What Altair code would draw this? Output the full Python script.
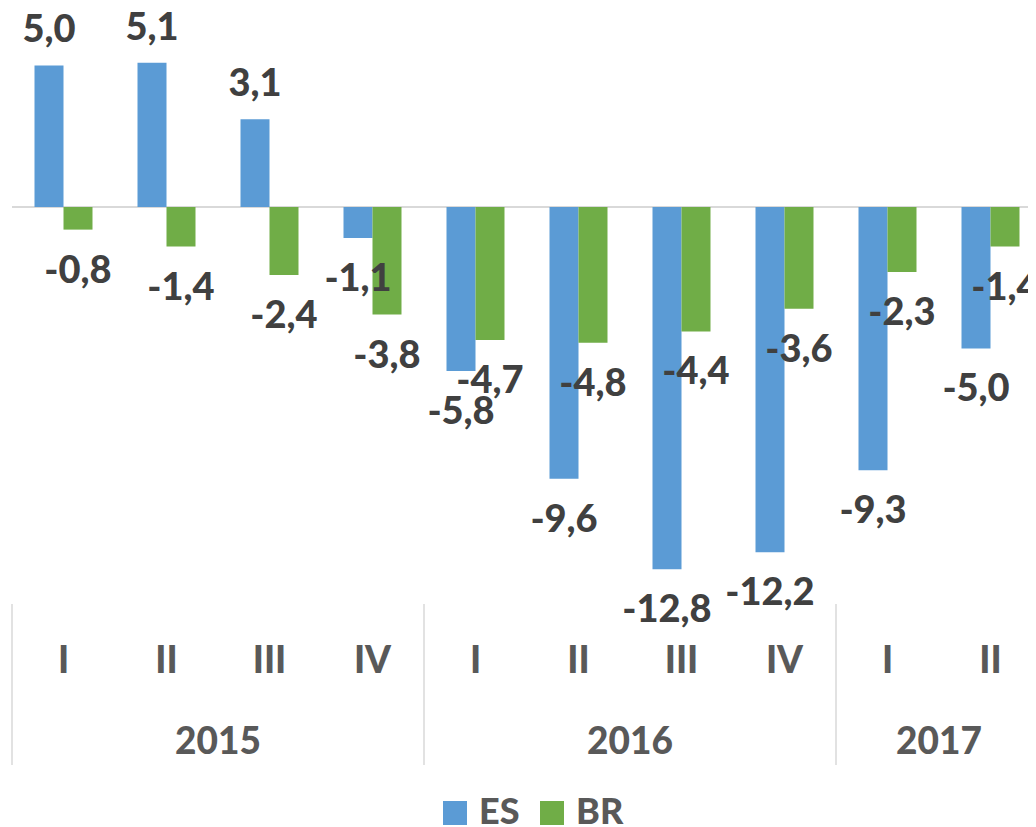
import altair as alt
import pandas as pd

# ---- data ----
years = ["2015", "2015", "2015", "2015", "2016", "2016", "2016", "2016", "2017", "2017"]
quarters = ["I", "II", "III", "IV", "I", "II", "III", "IV", "I", "II"]
es_values = [5.0, 5.1, 3.1, -1.1, -5.8, -9.6, -12.8, -12.2, -9.3, -5.0]
br_values = [-0.8, -1.4, -2.4, -3.8, -4.7, -4.8, -4.4, -3.6, -2.3, -1.4]
series = ["ES", "BR"]
series_colors = ["#5B9BD5", "#70AD47"]
year_labels = ["2015", "2016", "2017"]
year_first_quarter = ["2015-I", "2016-I", "2017-I"]
year_mid_quarter = ["2015-II", "2016-II", "2017-I"]

keys = [f"{y}-{q}" for y, q in zip(years, quarters)]

rows = []
for k, y, q, e, b in zip(keys, years, quarters, es_values, br_values):
    rows.append({"key": k, "year": y, "quarter": q, "series": "ES", "value": e})
    rows.append({"key": k, "year": y, "quarter": q, "series": "BR", "value": b})
df = pd.DataFrame(rows)
df["label"] = df["value"].map(lambda v: f"{v:.1f}".replace(".", ","))

cat_df = pd.DataFrame({"key": keys, "quarter": quarters})
year_df = pd.DataFrame({"year": year_labels, "mid": year_mid_quarter, "first": year_first_quarter})
zero_df = pd.DataFrame({"z": [0]})

FONT = "Lato"
WEIGHT = 900
W, H = 1030, 592

xscale = alt.Scale(domain=keys, paddingInner=0, paddingOuter=0)
yscale = alt.Scale(domain=[-14.03, 6.89], nice=False, zero=False)
xoff = alt.XOffset("series:N", sort=series,
                   scale=alt.Scale(domain=series, paddingInner=0, paddingOuter=0.776))

base = alt.Chart(df)

zero_line = alt.Chart(zero_df).mark_rule(color="#D9D9D9", strokeWidth=2).encode(
    y=alt.Y("z:Q", scale=yscale, axis=None),
    x=alt.value(0),
    x2=alt.value(W),
)

bars = base.mark_bar().encode(
    x=alt.X("key:N", scale=xscale, axis=None, sort=keys),
    xOffset=xoff,
    y=alt.Y("value:Q", scale=yscale, axis=None),
    color=alt.Color(
        "series:N",
        sort=series,
        scale=alt.Scale(domain=series, range=series_colors),
        legend=alt.Legend(
            title=None,
            orient="none",
            legendX=425,
            legendY=783,
            direction="horizontal",
            symbolType="square",
            symbolSize=576,
            symbolStrokeWidth=0,
            symbolOpacity=1,
            labelFont=FONT,
            labelFontSize=36,
            labelFontWeight=WEIGHT,
            labelColor="#595959",
            labelOffset=6,
            columnPadding=14,
        ),
    ),
)

label_style = dict(font=FONT, fontSize=38, fontWeight=WEIGHT, color="#404040",
                   baseline="alphabetic", align="center")

pos_labels = base.transform_filter("datum.value >= 0").mark_text(dy=-23, **label_style).encode(
    x=alt.X("key:N", scale=xscale, axis=None, sort=keys),
    xOffset=xoff,
    y=alt.Y("value:Q", scale=yscale, axis=None),
    text="label:N",
)
neg_labels = base.transform_filter("datum.value < 0").mark_text(dy=53, **label_style).encode(
    x=alt.X("key:N", scale=xscale, axis=None, sort=keys),
    xOffset=xoff,
    y=alt.Y("value:Q", scale=yscale, axis=None),
    text="label:N",
)

axis_style = dict(font=FONT, fontSize=37, fontWeight=WEIGHT, color="#595959",
                  baseline="alphabetic", align="center")

quarter_text = alt.Chart(cat_df).mark_text(**axis_style).encode(
    x=alt.X("key:N", scale=xscale, axis=None, sort=keys),
    y=alt.value(661),
    text="quarter:N",
)

year_text = alt.Chart(year_df).mark_text(**axis_style).encode(
    x=alt.X("mid:N", scale=xscale, axis=None, bandPosition=1),
    y=alt.value(742),
    text="year:N",
)

separators = alt.Chart(year_df).mark_rule(color="#D9D9D9", strokeWidth=1.5).encode(
    x=alt.X("first:N", scale=xscale, axis=None, bandPosition=0),
    y=alt.value(592),
    y2=alt.value(753),
)

chart = alt.layer(
    zero_line, bars, pos_labels, neg_labels, quarter_text, year_text, separators
).properties(
    width=W,
    height=H,
    autosize=alt.AutoSizeParams(type="none"),
    padding={"left": 4, "top": 4, "right": -14, "bottom": 223},
).configure_view(stroke=None)

chart.save("out.html", embed_options={"renderer": "svg", "actions": False})
